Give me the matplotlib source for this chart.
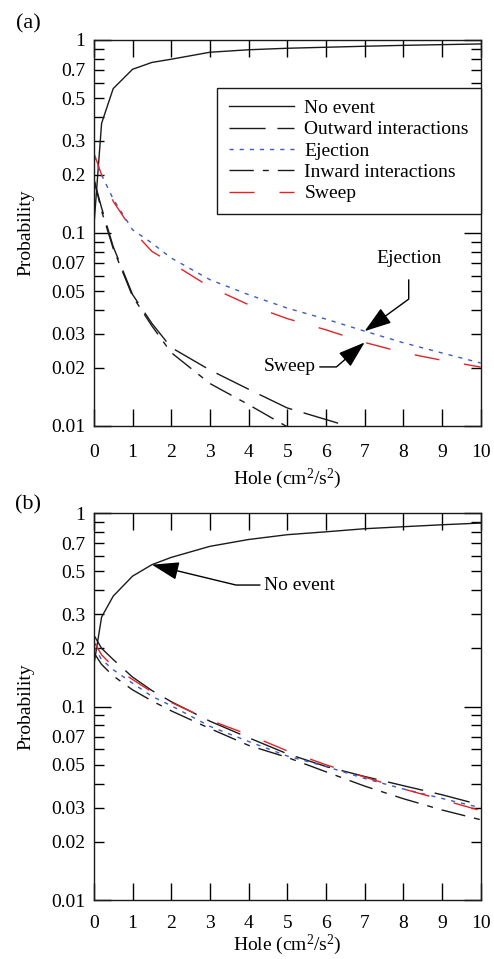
import math
import matplotlib
matplotlib.use('Agg')
import matplotlib.pyplot as plt
from matplotlib.ticker import FixedLocator, FuncFormatter

plt.rcParams['font.family'] = 'Liberation Serif'
plt.rcParams['mathtext.fontset'] = 'custom'
plt.rcParams['mathtext.rm'] = 'Liberation Serif'
plt.rcParams['mathtext.it'] = 'Liberation Serif:italic'
plt.rcParams['lines.scale_dashes'] = False

# hole size (cm^2/s^2)
hole = [0, 0.2, 0.5, 1, 1.5, 2, 3, 4, 5, 6, 7, 8, 9, 10]

# (a) probabilities
a_no_event = [0.108, 0.37, 0.56, 0.705, 0.765, 0.795, 0.864, 0.89, 0.906, 0.917, 0.928, 0.938, 0.946, 0.954]
a_outward = [0.19, 0.135, 0.085, 0.048, 0.034, 0.0255, 0.0195, 0.0155, 0.0124, 0.0108, 0.0094, 0.0085, 0.0078, 0.0072]
a_ejection = [0.25, 0.2, 0.15, 0.104, 0.0887, 0.0742, 0.0573, 0.0479, 0.0408, 0.0358, 0.031, 0.027, 0.0239, 0.0212]
a_inward = [0.19, 0.13, 0.083, 0.047, 0.033, 0.024, 0.0166, 0.0129, 0.0099, 0.0085, 0.0075, 0.0068, 0.0062, 0.0057]
a_sweep = [0.26, 0.2, 0.146, 0.103, 0.0803, 0.07, 0.0525, 0.0425, 0.036, 0.0315, 0.0271, 0.024, 0.0219, 0.0202]

# (b) probabilities
b_no_event = [0.164, 0.29, 0.372, 0.472, 0.541, 0.59, 0.673, 0.73, 0.773, 0.80, 0.83, 0.85, 0.87, 0.888]
b_outward = [0.234, 0.2, 0.175, 0.142, 0.121, 0.106, 0.084, 0.069, 0.057, 0.049, 0.0435, 0.039, 0.035, 0.031]
b_ejection = [0.204, 0.175, 0.155, 0.132, 0.113, 0.101, 0.079, 0.066, 0.0555, 0.049, 0.0425, 0.0375, 0.0335, 0.030]
b_inward = [0.19, 0.165, 0.144, 0.122, 0.107, 0.095, 0.077, 0.063, 0.0546, 0.046, 0.0388, 0.0334, 0.0292, 0.026]
b_sweep = [0.216, 0.185, 0.161, 0.138, 0.119, 0.105, 0.085, 0.0715, 0.059, 0.05, 0.0432, 0.0375, 0.033, 0.029]

labels = ['No event', 'Outward interactions', 'Ejection', 'Inward interactions', 'Sweep']
styles = [
    dict(color='#1a1a1a', ls='-'),
    dict(color='#1a1a1a', dashes=(26, 8.5)),
    dict(color='#3a5bc7', dashes=(3, 4.3)),
    dict(color='#1a1a1a', dashes=(17.5, 6.5, 4.3, 6.5)),
    dict(color='#e32228', dashes=(18, 18)),
]

fig = plt.figure(figsize=(4.94, 9.59), dpi=100)
ax_a = fig.add_axes([0.190, 0.5558, 0.783, 0.4025])
ax_b = fig.add_axes([0.190, 0.0615, 0.783, 0.4035])

minor_labels = {2, 3, 5, 7}


def minor_fmt(v, pos):
    m = v / 10 ** math.floor(math.log10(v) + 1e-9)
    if round(m) in minor_labels and abs(m - round(m)) < 1e-6:
        return '%g' % v
    return ''


def style_axes(ax, xpad):
    ax.set_yscale('log')
    ax.set_xlim(0, 10)
    ax.set_ylim(0.01, 1)
    ax.xaxis.set_major_locator(FixedLocator(range(0, 11)))
    ax.yaxis.set_major_locator(FixedLocator([0.01, 0.1, 1]))
    ax.yaxis.set_major_formatter(FuncFormatter(lambda v, p: '%g' % v))
    subs = [m * d for d in (0.01, 0.1) for m in range(2, 10)]
    ax.yaxis.set_minor_locator(FixedLocator(subs))
    ax.yaxis.set_minor_formatter(FuncFormatter(minor_fmt))
    ax.tick_params(axis='x', which='major', direction='in', top=True, length=12,
                   width=1, pad=xpad, labelsize=14)
    ax.tick_params(axis='y', which='major', direction='in', right=True, length=12,
                   width=1, pad=6, labelsize=14)
    ax.tick_params(axis='y', which='minor', direction='in', right=True, length=7,
                   width=1, pad=6, labelsize=14)
    for s in ax.spines.values():
        s.set_linewidth(1.0)
        s.set_color('#1a1a1a')
    ax.set_ylabel('Probability', fontsize=14, labelpad=12)


for ax, series in ((ax_a, [a_no_event, a_outward, a_ejection, a_inward, a_sweep]),
                   (ax_b, [b_no_event, b_outward, b_ejection, b_inward, b_sweep])):
    for lab, vals, st in zip(labels, series, styles):
        ax.plot(hole, vals, lw=1.0, label=lab, **st)

style_axes(ax_a, 13)
style_axes(ax_b, 11)
ax_a.set_xlabel('Hole (cm$^2$/s$^2$)', fontsize=14, labelpad=4)
ax_b.set_xlabel('Hole (cm$^2$/s$^2$)', fontsize=14, labelpad=0)

leg = ax_a.legend(loc='upper right', bbox_to_anchor=(1.0, 0.876), borderaxespad=0,
                  fontsize=14, frameon=True, fancybox=False, framealpha=1,
                  edgecolor='#1a1a1a', handlelength=3.35, handletextpad=0.55,
                  labelspacing=0.19, borderpad=0.6)
leg.get_frame().set_linewidth(1.0)

arrow = dict(arrowstyle='-|>,head_length=1.2,head_width=0.4', color='black',
             lw=1.0, patchA=None, shrinkB=0)

ax_a.annotate('Ejection', xy=(hole[10], a_ejection[10]), xytext=(0.814, 0.433),
              textcoords='axes fraction', ha='center', va='center', fontsize=14,
              arrowprops=dict(arrow, relpos=(0.5, 0), shrinkA=9,
                              connectionstyle='angle,angleA=90,angleB=36,rad=0'))
ax_a.annotate('Sweep', xy=(hole[10], a_sweep[10]), xytext=(0.506, 0.153),
              textcoords='axes fraction', ha='center', va='center', fontsize=14,
              arrowprops=dict(arrow, relpos=(1, 0.5), shrinkA=3,
                              connectionstyle='angle,angleA=0,angleB=41,rad=0'))
ax_b.annotate('No event', xy=(hole[4], b_no_event[4]), xytext=(0.532, 0.814),
              textcoords='axes fraction', ha='center', va='center', fontsize=14,
              arrowprops=dict(arrow, relpos=(0, 0.5), shrinkA=3,
                              connectionstyle='angle,angleA=0,angleB=-13.6,rad=0'))

fig.text(28 / 494, 1 - 24 / 959, '(a)', fontsize=16, ha='center', va='center')
fig.text(28 / 494, 1 - 505 / 959, '(b)', fontsize=16, ha='center', va='center')

fig.savefig('out.png', dpi=100)
